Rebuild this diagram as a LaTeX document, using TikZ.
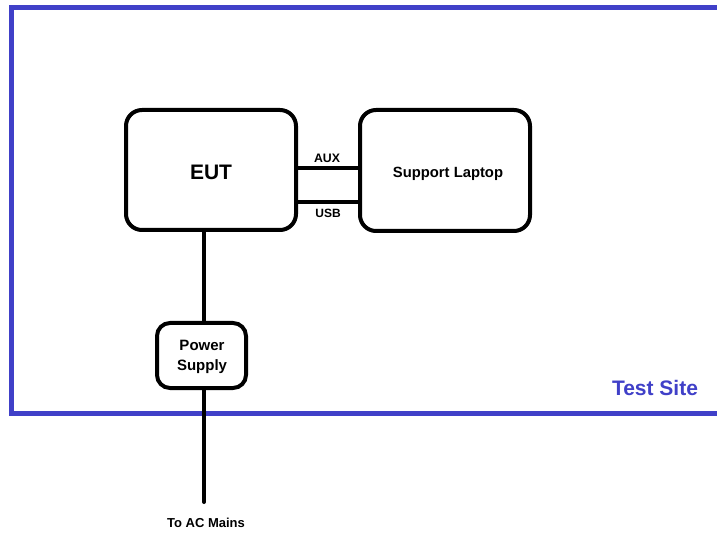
\documentclass[tikz,border=0pt]{standalone}
\usepackage{fontspec}
\setmainfont{Liberation Sans}
\definecolor{siteblue}{RGB}{64,64,200}
\begin{document}
\begin{tikzpicture}[x=1pt,y=-1pt,
  box/.style={draw=black,line width=4pt,rounded corners=16pt,fill=white},
  wire/.style={draw=black,line width=4pt},
  lbl/.style={font=\bfseries,text=black,inner sep=0pt}]
\useasboundingbox (0,0) rectangle (717,534);
\fill[white] (0,0) rectangle (717,534);
% test site border
\draw[siteblue,line width=5pt] (725,7.5) -- (11,7.5) -- (11,413.5) -- (725,413.5);
\node[text=siteblue,font=\fontsize{21}{24}\selectfont\bfseries,inner sep=0pt] (site) at (655,388) {Test Site};
% boxes
\draw[box] (126,110) rectangle (296,230);
\node[lbl,font=\fontsize{21}{24}\selectfont\bfseries] (eut) at (211,172) {EUT};
\draw[box] (360,110) rectangle (530,231);
\node[lbl,font=\fontsize{14.8}{17}\selectfont\bfseries] (lap) at (448,174) {Support Laptop};
\draw[box,rounded corners=13pt] (157,323) rectangle (246,388);
\node[lbl,font=\fontsize{15}{19}\selectfont\bfseries,align=center] (ps) at (202,357) {Power\\[1pt]Supply};
% coordinates for wires
\coordinate (eutR1) at (296,168);
\coordinate (lapL1) at (362,168);
\coordinate (eutR2) at (296,202);
\coordinate (lapL2) at (362,202);
\coordinate (eutB) at (204,230);
\coordinate (psT) at (204,323);
\coordinate (psB) at (204,388);
\coordinate (mains) at (204,502);
\draw[wire] (eutR1) -- (lapL1);
\draw[wire] (eutR2) -- (lapL2);
\draw[wire] (eutB) -- (psT);
\draw[wire,line cap=round] (psB) -- (mains);
\node[lbl,font=\fontsize{12.3}{14}\selectfont\bfseries] (aux) at (327,158) {AUX};
\node[lbl,font=\fontsize{12}{14}\selectfont\bfseries] (usb) at (328,213) {USB};
\node[lbl,font=\fontsize{13}{15}\selectfont\bfseries] (ac) at (206,523) {To AC Mains};
\end{tikzpicture}
\end{document}
